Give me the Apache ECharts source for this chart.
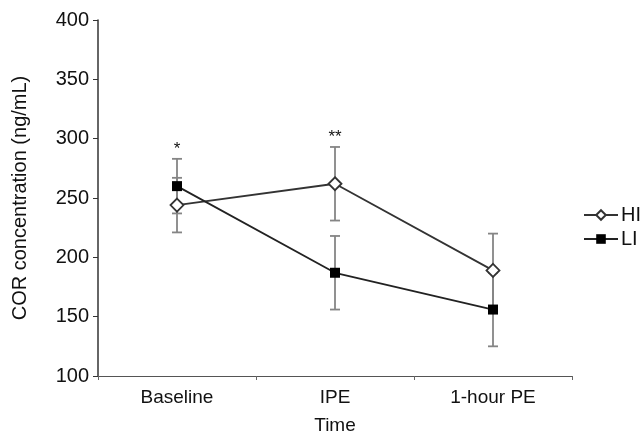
<!DOCTYPE html>
<html><head><meta charset="utf-8">
<script src="https://cdn.jsdelivr.net/npm/echarts@6/dist/echarts.min.js"></script>
<style>html,body{margin:0;padding:0;background:#fff}#c{width:640px;height:442px}</style>
</head><body><div id="c"></div>
<script>
var categories = ['Baseline', 'IPE', '1-hour PE'];
var hiMean = [244, 262, 189];
var hiErr = [23, 31, 31];
var liMean = [260, 187, 156];
var liErr = [23, 31, 31];
var sigLabels = ['*', '**', ''];
var yTicks = [100, 150, 200, 250, 300, 350, 400];

var font = 'Liberation Sans, Arial, sans-serif';
var chart = echarts.init(document.getElementById('c'));

function errData(mean, err) {
  return mean.map(function (m, i) { return [i, m - err[i], m + err[i]]; });
}
function errRender(params, api) {
  var x = api.value(0);
  var lo = api.coord([x, api.value(1)]);
  var hi = api.coord([x, api.value(2)]);
  var w = 5;
  var st = {stroke: '#858585', lineWidth: 1.8};
  return {type: 'group', children: [
    {type: 'line', shape: {x1: lo[0], y1: lo[1], x2: hi[0], y2: hi[1]}, style: st},
    {type: 'line', shape: {x1: lo[0] - w, y1: lo[1], x2: lo[0] + w, y2: lo[1]}, style: st},
    {type: 'line', shape: {x1: hi[0] - w, y1: hi[1], x2: hi[0] + w, y2: hi[1]}, style: st}
  ]};
}
var sigData = sigLabels.map(function (s, i) {
  return [i, Math.max(hiMean[i] + hiErr[i], liMean[i] + liErr[i]), s];
});

chart.setOption({
  animation: false,
  grid: {left: 98, right: 68, top: 20, bottom: 66, outerBoundsMode: 'none', containLabel: false},
  legend: {
    orient: 'vertical', left: 578, top: 200, itemWidth: 34, itemHeight: 12, itemGap: 4,
    textStyle: {fontFamily: font, fontSize: 20, color: '#111', padding: [0, 0, 0, -2]},
    data: ['HI', 'LI']
  },
  xAxis: {
    type: 'category', data: categories, boundaryGap: true,
    name: 'Time', nameLocation: 'middle', nameGap: 40,
    nameTextStyle: {fontFamily: font, fontSize: 19, color: '#111'},
    axisLine: {lineStyle: {color: '#555', width: 1.2}},
    axisTick: {show: true, length: 4, lineStyle: {color: '#666'}},
    axisLabel: {fontFamily: font, fontSize: 19, color: '#111', margin: 12}
  },
  yAxis: {
    type: 'value', min: 100, max: 400, interval: 50,
    name: 'COR concentration (ng/mL)', nameLocation: 'middle', nameGap: 68,
    nameTextStyle: {fontFamily: font, fontSize: 20, color: '#111'},
    axisLine: {show: true, lineStyle: {color: '#333', width: 1.5}},
    axisTick: {show: true, inside: false, length: 5, lineStyle: {color: '#333'}},
    splitLine: {show: false},
    axisLabel: {fontFamily: font, fontSize: 20, color: '#111', margin: 9}
  },
  series: [
    {type: 'custom', name: 'errHI', data: errData(hiMean, hiErr), renderItem: errRender, z: 1, silent: true},
    {type: 'custom', name: 'errLI', data: errData(liMean, liErr), renderItem: errRender, z: 1, silent: true},
    {
      type: 'line', name: 'HI', data: hiMean, symbol: 'diamond', symbolSize: 13,
      lineStyle: {color: '#333', width: 1.8},
      itemStyle: {color: '#fff', borderColor: '#333', borderWidth: 1.8}, z: 3
    },
    {
      type: 'line', name: 'LI', data: liMean, symbol: 'rect', symbolSize: 10,
      lineStyle: {color: '#222', width: 1.8},
      itemStyle: {color: '#000', borderColor: '#000', borderWidth: 0}, z: 4
    },
    {
      type: 'custom', name: 'sig', data: sigData, silent: true, z: 5,
      renderItem: function (params, api) {
        var p = api.coord([api.value(0), api.value(1)]);
        return {type: 'text', x: p[0], y: p[1] - 1,
          style: {text: sigLabels[params.dataIndex], fill: '#111', font: '17px ' + font, textAlign: 'center', textVerticalAlign: 'bottom'}};
      }
    }
  ]
});
</script></body></html>
